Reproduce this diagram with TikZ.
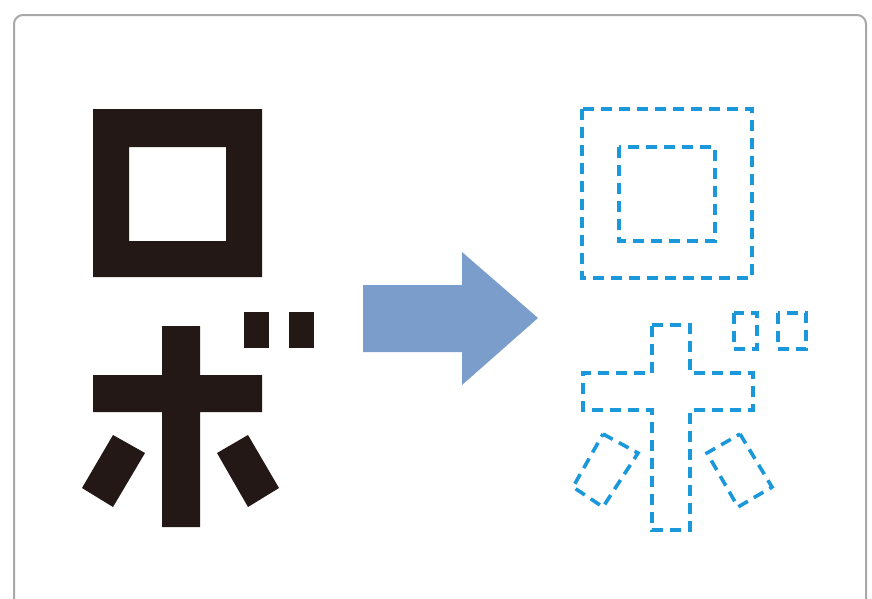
\documentclass[tikz,border=0pt]{standalone}
\definecolor{inkblack}{HTML}{231815}
\definecolor{arrowblue}{HTML}{7A9DCC}
\definecolor{dashblue}{HTML}{1B98DA}
\definecolor{framegray}{HTML}{A8A8A8}
\tikzset{
  solidglyph/.style={fill=inkblack, draw=none},
  dashglyph/.style={draw=dashblue, line width=3.6pt, dash pattern=on 11pt off 7pt, line join=miter},
  bigarrow/.style={fill=arrowblue, draw=none},
  framebox/.style={draw=framegray, line width=2pt, rounded corners=9pt, fill=white}
}
\begin{document}
\begin{tikzpicture}[x=1pt,y=-1pt]
\useasboundingbox (0,0) rectangle (872,598);
\fill[white] (0,0) rectangle (872,598);
% frame
\draw[framebox] (14,15) rectangle (866,640);

% ---------- left: solid glyphs ----------
% ro
\fill[solidglyph, even odd rule] (93,109) rectangle (262,277) (129,147) rectangle (226,241);
% bo cross
\fill[solidglyph] (162,326) -- (200,326) -- (200,375) -- (262,375) -- (262,412) -- (200,412)
  -- (200,527) -- (162,527) -- (162,412) -- (93,412) -- (93,375) -- (162,375) -- cycle;
% dakuten
\fill[solidglyph] (244,312) rectangle (269,348);
\fill[solidglyph] (289,312) rectangle (314,348);
% slanted strokes
\fill[solidglyph] (113,435) -- (145,453) -- (113,507) -- (82,488) -- cycle;
\fill[solidglyph] (248,435) -- (279,488) -- (248,507) -- (217,453) -- cycle;

% ---------- arrow ----------
\fill[bigarrow] (363,285) -- (462,285) -- (462,252) -- (538,318) -- (462,385) -- (462,352) -- (363,352) -- cycle;

% ---------- right: dashed outlines ----------
\begin{scope}[xshift=489pt]
\draw[dashglyph] (93,109) rectangle (263,278);
\draw[dashglyph] (130,147) rectangle (226,241);
\draw[dashglyph] (163,325) -- (201,325) -- (201,373) -- (264,373) -- (264,410) -- (201,410)
  -- (201,530) -- (163,530) -- (163,410) -- (94,410) -- (94,373) -- (163,373) -- cycle;
\draw[dashglyph] (245,313) rectangle (268,349);
\draw[dashglyph] (289,313) rectangle (317,349);
\draw[dashglyph] (114,434) -- (149,453) -- (114,507) -- (84,487) -- cycle;
\draw[dashglyph] (251,434) -- (283,487) -- (249,507) -- (218,453) -- cycle;
\end{scope}
\end{tikzpicture}
\end{document}
